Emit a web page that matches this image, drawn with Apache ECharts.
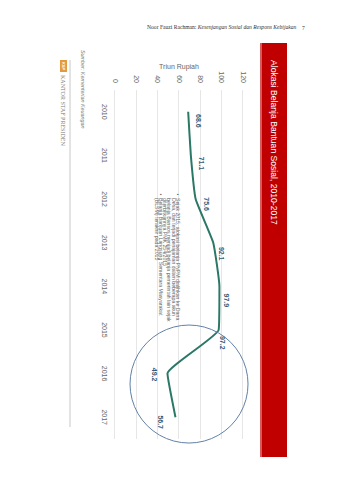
<!DOCTYPE html>
<html>
<head>
<meta charset="utf-8">
<script src="https://cdn.jsdelivr.net/npm/echarts@6/dist/echarts.min.js"></script>
<style>
html, body { margin: 0; padding: 0; background: #fff; }
body { width: 339px; height: 480px; position: relative; overflow: hidden; }
#head { position: absolute; left: 147px; top: 24px; font: 5.6px 'Liberation Serif', serif; color: #333; white-space: nowrap; }
#pageno { position: absolute; left: 302px; top: 25px; font: 5.6px 'Liberation Serif', serif; color: #333; }
#frame { position: absolute; left: 50px; top: 35px; width: 245px; height: 445px; }
/* the figure is printed sideways on the page: draw it flat, then turn it */
#chart { position: absolute; left: 0; top: 0; width: 445px; height: 245px;
  transform-origin: 0 0; transform: translateX(245px) rotate(90deg); }
</style>
</head>
<body>
<div id="head">Noor Fauzi Rachman: <i>Kesenjangan Sosial dan Respons Kebijakan</i></div>
<div id="pageno">7</div>
<div id="frame"><div id="chart"></div></div>
<script>
var years = ['2010', '2011', '2012', '2013', '2014', '2015', '2016', '2017'];
var bansos = [68.6, 71.1, 75.6, 92.1, 97.9, 97.2, 49.2, 56.7];
var valueTicks = [0, 20, 40, 60, 80, 100, 120];

var titleText = 'Alokasi Belanja Bantuan Sosial, 2010-2017';
var unitText = 'Triun Rupiah';
var sourceText = 'Sumber: Kementerian Keuangan';
var note1 = [
  'Sejak 2015, alokasi belanja PNPM dialihkan ke Dana',
  'Desa, dan terjadi penajaman dalam beberapa akun',
  'belanja Bansos menjadi belanja pemerintah lain sejak',
  'diterbitkannya PMK 254/2015'
];
var note2 = [
  'Belanja Bantuan Langsung Sementara Masyarakat',
  '(BLSM) terakhir pada 2015'
];

// where each value label sits next to its point
var labelPos = [
  ['top', [9, -3]], ['top', [8, -3]], ['top', [5, -3]], ['top', [11, -1]],
  ['top', [14, 0]], ['right', [2, -4]], ['bottom', [1, 5]], ['bottom', [5, 7]]
];

var chart = echarts.init(document.getElementById('chart'), null, { renderer: 'svg' });

var seriesData = bansos.map(function (v, i) {
  return { value: v, label: { position: labelPos[i][0], offset: labelPos[i][1] } };
});

var option = {
  backgroundColor: '#fff',
  animation: false,
  grid: { left: 55, right: 41, top: 52, bottom: 65 },
  xAxis: {
    type: 'category',
    data: years,
    boundaryGap: true,
    axisLine: { show: false },
    axisTick: { show: false },
    axisLabel: { color: '#666', fontSize: 7, margin: 7, fontFamily: 'Liberation Sans' }
  },
  yAxis: {
    type: 'value',
    min: valueTicks[0],
    max: valueTicks[valueTicks.length - 1],
    interval: valueTicks[1] - valueTicks[0],
    name: unitText,
    nameLocation: 'middle',
    nameGap: 20,
    nameMoveOverlap: false,
    nameTextStyle: { color: '#666', fontSize: 7, fontFamily: 'Liberation Sans' },
    axisLine: { show: false },
    axisTick: { show: false },
    axisLabel: { color: '#666', fontSize: 7, margin: 7, fontFamily: 'Liberation Sans' },
    splitLine: { lineStyle: { color: '#e6e6e6', width: 1 } }
  },
  series: [{
    type: 'line',
    data: seriesData,
    smooth: 0.12,
    showSymbol: true,
    symbol: 'circle',
    symbolSize: 0,
    itemStyle: { color: '#2b7866' },
    lineStyle: { color: '#2b7866', width: 2 },
    label: {
      show: true,
      color: '#2f5d7c',
      fontSize: 7,
      fontWeight: 'bold',
      fontFamily: 'Liberation Sans',
      distance: 4
    }
  }]
};
chart.setOption(option);

// ring drawn around the 2015-2017 drop
var p16 = chart.convertToPixel({ gridIndex: 0 }, ['2016', 69.4]);
var p17 = chart.convertToPixel({ gridIndex: 0 }, ['2017', 69.4]);
var ringX = p16[0] + 0.24 * (p17[0] - p16[0]);

var g = [
  { type: 'rect', shape: { x: 8, y: 8, width: 414, height: 27 }, style: { fill: '#c00000' } },
  { type: 'rect', shape: { x: 8, y: 33, width: 414, height: 2 }, style: { fill: '#d95a5a' } },
  { type: 'text', x: 25, y: 21.5, style: { text: titleText, fill: '#fff', fontSize: 8.6,
      fontFamily: 'Liberation Sans', verticalAlign: 'middle', align: 'left' } },
  { type: 'circle', shape: { cx: ringX, cy: p16[1], r: 59 },
    style: { fill: 'none', stroke: '#6281a8', lineWidth: 1 }, z: 10 },
  { type: 'text', x: 158.5, y: 117.5, style: { text: '\u2022', fill: '#555', fontSize: 5,
      verticalAlign: 'middle', fontFamily: 'Liberation Sans' } },
  { type: 'text', x: 163, y: 115, style: { text: note1.join('\n'), fill: '#666', fontSize: 5.2,
      lineHeight: 4.3, fontFamily: 'Liberation Sans', verticalAlign: 'top' }, z: 5 },
  { type: 'text', x: 158.5, y: 134.5, style: { text: '\u2022', fill: '#555', fontSize: 5,
      verticalAlign: 'middle', fontFamily: 'Liberation Sans' } },
  { type: 'text', x: 163, y: 132, style: { text: note2.join('\n'), fill: '#666', fontSize: 5.2,
      lineHeight: 4.3, fontFamily: 'Liberation Sans', verticalAlign: 'top' }, z: 5 },
  { type: 'text', x: 15, y: 212, style: { text: sourceText, fill: '#777', fontSize: 5.4,
      fontStyle: 'italic', fontFamily: 'Liberation Sans', verticalAlign: 'middle' } },
  { type: 'line', shape: { x1: 25, y1: 225, x2: 392, y2: 225 }, style: { stroke: '#c8c8c8', lineWidth: 1 } },
  { type: 'rect', shape: { x: 25, y: 228, width: 12, height: 7 }, style: { fill: '#e39a3c' } },
  { type: 'text', x: 31, y: 231.5, style: { text: 'KSP', fill: '#fff', fontSize: 4, fontWeight: 'bold',
      align: 'center', verticalAlign: 'middle', fontFamily: 'Liberation Sans' } },
  { type: 'text', x: 40, y: 232, style: { text: 'KANTOR STAF PRESIDEN', fill: '#777', fontSize: 6,
      fontFamily: 'Liberation Serif', verticalAlign: 'middle' } }
];
chart.setOption({ graphic: g });
</script>
</body>
</html>
